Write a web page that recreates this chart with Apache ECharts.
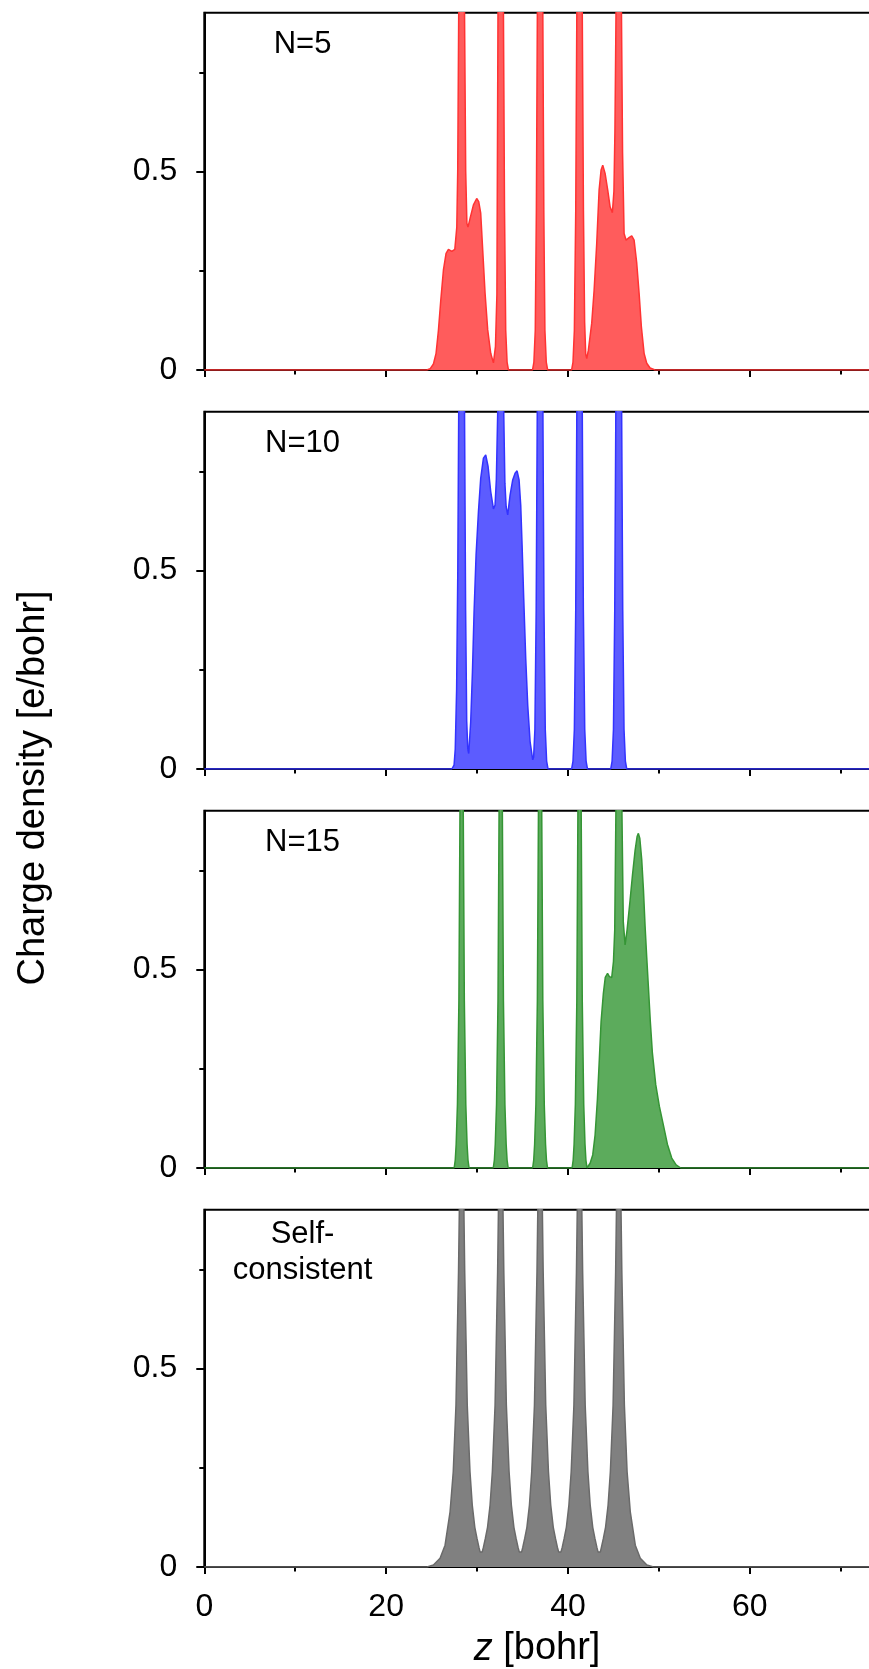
<!DOCTYPE html>
<html>
<head>
<meta charset="utf-8">
<title>Charge density profiles</title>
<script src="https://cdn.jsdelivr.net/npm/echarts@6/dist/echarts.min.js"></script>
<style>
  html, body { margin: 0; padding: 0; background: #fff; overflow: hidden; }
  #chart { width: 940px; height: 1669px; }
</style>
</head>
<body>
<div id="chart"></div>
<script>
// Linear charge density along z, [z (bohr), rho (e/bohr)] for each calculation.
// The atomic peaks rise well above the plotted range and are cut at 0.9.
const rhoN5 = [
  [0, 0], [24.47, 0], [24.83, 0.003], [25.2, 0.015], [25.49, 0.042], [25.75, 0.10],
  [26.01, 0.176], [26.3, 0.252], [26.59, 0.294], [26.85, 0.304], [27.22, 0.299],
  [27.55, 0.304], [27.77, 0.36], [27.87, 0.5], [27.98, 0.9], [28.12, 2.0], [28.3, 4.0],
  [28.48, 2.0], [28.62, 0.9], [28.75, 0.5], [28.88, 0.37], [29.0, 0.36], [29.23, 0.382],
  [29.6, 0.416], [29.96, 0.432], [30.18, 0.424], [30.4, 0.395], [30.62, 0.302],
  [30.88, 0.193], [31.17, 0.101], [31.5, 0.042], [31.8, 0.018], [32.02, 0.059],
  [32.18, 0.19], [32.3, 0.9], [32.45, 2.0], [32.6, 4.0], [32.75, 2.0], [32.9, 0.9],
  [33.02, 0.4], [33.15, 0.1], [33.3, 0.02], [33.45, 0],
  [36.1, 0], [36.25, 0.02], [36.4, 0.1], [36.52, 0.4], [36.63, 0.9], [36.78, 2.0],
  [36.93, 4.0], [37.08, 2.0], [37.23, 0.9], [37.34, 0.4], [37.46, 0.1], [37.61, 0.02], [37.76, 0],
  [40.4, 0], [40.55, 0.02], [40.7, 0.1], [40.85, 0.4], [40.97, 0.9], [41.12, 2.0],
  [41.27, 4.0], [41.42, 2.0], [41.57, 0.9], [41.7, 0.4], [41.83, 0.12], [41.95, 0.04],
  [42.06, 0.029], [42.24, 0.05], [42.61, 0.118], [42.87, 0.2], [43.16, 0.319],
  [43.42, 0.453], [43.64, 0.504], [43.82, 0.516], [44.08, 0.495], [44.37, 0.453],
  [44.63, 0.411], [44.88, 0.396], [45.05, 0.45], [45.16, 0.6], [45.28, 0.9], [45.43, 2.0],
  [45.58, 4.0], [45.73, 2.0], [45.88, 0.9], [46.0, 0.55], [46.17, 0.344], [46.39, 0.327],
  [46.75, 0.334], [47.01, 0.338], [47.27, 0.327], [47.56, 0.269], [47.82, 0.193],
  [48.07, 0.109], [48.37, 0.042], [48.66, 0.017], [49.03, 0.005], [49.58, 0], [80, 0]
];

const rhoN10 = [
  [0, 0], [27.22, 0], [27.47, 0.01], [27.6, 0.05], [27.75, 0.2], [27.88, 0.5],
  [27.98, 0.9], [28.14, 2.0], [28.3, 4.0], [28.46, 2.0], [28.62, 0.9], [28.74, 0.4],
  [28.86, 0.12], [28.98, 0.05], [29.08, 0.039], [29.3, 0.119], [29.49, 0.245],
  [29.67, 0.396], [29.89, 0.539], [30.15, 0.648], [30.4, 0.732], [30.7, 0.783],
  [30.95, 0.791], [31.21, 0.762], [31.5, 0.699], [31.8, 0.655], [31.98, 0.665],
  [32.12, 0.73], [32.27, 0.9], [32.43, 2.0], [32.6, 4.0], [32.77, 2.0], [32.93, 0.9],
  [33.06, 0.72], [33.2, 0.66], [33.37, 0.64], [33.63, 0.69], [33.92, 0.728],
  [34.18, 0.745], [34.4, 0.751], [34.62, 0.728], [34.8, 0.665], [34.95, 0.564],
  [35.13, 0.43], [35.35, 0.279], [35.57, 0.161], [35.83, 0.069], [36.12, 0.023],
  [36.22, 0.03], [36.36, 0.1], [36.5, 0.4], [36.62, 0.9], [36.77, 2.0], [36.93, 4.0],
  [37.09, 2.0], [37.24, 0.9], [37.36, 0.4], [37.5, 0.1], [37.65, 0.02], [37.8, 0],
  [40.4, 0], [40.55, 0.02], [40.7, 0.1], [40.85, 0.4], [40.97, 0.9], [41.12, 2.0],
  [41.27, 4.0], [41.42, 2.0], [41.57, 0.9], [41.69, 0.4], [41.84, 0.1], [41.99, 0.02], [42.14, 0],
  [44.7, 0], [44.85, 0.02], [45.0, 0.1], [45.14, 0.4], [45.26, 0.9], [45.42, 2.0],
  [45.58, 4.0], [45.74, 2.0], [45.9, 0.9], [46.02, 0.4], [46.16, 0.1], [46.31, 0.02],
  [46.46, 0], [80, 0]
];

const rhoN15 = [
  [0, 0], [27.48, 0], [27.6, 0.02], [27.7, 0.06], [27.84, 0.16], [28.0, 0.42], [28.12, 0.9],
  [28.2, 1.5], [28.3, 2.0], [28.4, 1.5], [28.48, 0.9], [28.6, 0.42], [28.76, 0.16],
  [28.9, 0.06], [29.0, 0.02], [29.12, 0],
  [31.78, 0], [31.9, 0.02], [32.0, 0.06], [32.14, 0.16], [32.3, 0.42], [32.42, 0.9],
  [32.5, 1.5], [32.6, 2.0], [32.7, 1.5], [32.78, 0.9], [32.9, 0.42], [33.06, 0.16],
  [33.2, 0.06], [33.3, 0.02], [33.42, 0],
  [36.11, 0], [36.23, 0.02], [36.33, 0.06], [36.47, 0.16], [36.63, 0.42], [36.75, 0.9],
  [36.83, 1.5], [36.93, 2.0], [37.03, 1.5], [37.11, 0.9], [37.23, 0.42], [37.39, 0.16],
  [37.53, 0.06], [37.63, 0.02], [37.75, 0],
  [40.45, 0], [40.57, 0.02], [40.67, 0.06], [40.81, 0.16], [40.97, 0.42], [41.09, 0.9],
  [41.17, 1.5], [41.27, 2.0], [41.37, 1.5], [41.45, 0.9], [41.57, 0.42], [41.73, 0.16],
  [41.87, 0.06], [41.97, 0.02], [42.09, 0],
  [42.43, 0.012], [42.72, 0.033], [42.98, 0.083], [43.24, 0.175], [43.45, 0.276],
  [43.64, 0.369], [43.89, 0.44], [44.1, 0.48], [44.35, 0.49], [44.55, 0.482],
  [44.81, 0.48], [45.0, 0.52], [45.14, 0.6], [45.27, 0.9], [45.43, 1.5], [45.6, 2.0],
  [45.77, 1.5], [45.93, 0.9], [46.08, 0.62], [46.28, 0.562], [46.5, 0.6], [46.83, 0.675],
  [47.1, 0.74], [47.38, 0.8], [47.6, 0.835], [47.74, 0.843], [47.9, 0.83], [48.11, 0.776],
  [48.3, 0.7], [48.48, 0.608], [48.66, 0.53], [48.84, 0.457], [49.05, 0.37], [49.28, 0.29],
  [49.65, 0.21], [50.05, 0.155], [50.49, 0.108], [50.93, 0.06], [51.41, 0.025],
  [51.89, 0.008], [52.4, 0], [80, 0]
];

const rhoSelfConsistent = [
  [0, 0], [24.5, 0], [25.2, 0.005], [25.93, 0.022], [26.48, 0.055], [27.03, 0.139],
  [27.38, 0.24], [27.68, 0.408], [27.82, 0.576], [27.96, 0.744], [28.05, 0.9], [28.18, 1.6],
  [28.3, 3.0], [28.42, 1.6], [28.55, 0.9], [28.64, 0.744], [28.78, 0.576], [28.92, 0.408],
  [29.22, 0.24], [29.47, 0.156], [29.75, 0.1], [29.99, 0.072], [30.2, 0.05], [30.33, 0.038],
  [30.45, 0.034], [30.57, 0.038],
  [30.7, 0.05], [30.91, 0.072], [31.15, 0.1], [31.43, 0.156], [31.68, 0.24], [31.98, 0.408],
  [32.12, 0.576], [32.26, 0.744], [32.35, 0.9], [32.48, 1.6], [32.6, 3.0], [32.72, 1.6],
  [32.85, 0.9], [32.94, 0.744], [33.08, 0.576], [33.22, 0.408], [33.52, 0.24], [33.77, 0.156],
  [34.05, 0.1], [34.29, 0.072], [34.5, 0.05], [34.64, 0.038], [34.77, 0.034], [34.9, 0.038],
  [35.03, 0.05], [35.24, 0.072], [35.48, 0.1], [35.76, 0.156], [36.01, 0.24], [36.31, 0.408],
  [36.45, 0.576], [36.59, 0.744], [36.68, 0.9], [36.81, 1.6], [36.93, 3.0], [37.05, 1.6],
  [37.18, 0.9], [37.27, 0.744], [37.41, 0.576], [37.55, 0.408], [37.85, 0.24], [38.1, 0.156],
  [38.38, 0.1], [38.62, 0.072], [38.83, 0.05], [38.97, 0.038], [39.1, 0.034], [39.23, 0.038],
  [39.37, 0.05], [39.58, 0.072], [39.82, 0.1], [40.1, 0.156], [40.35, 0.24], [40.65, 0.408],
  [40.79, 0.576], [40.93, 0.744], [41.02, 0.9], [41.15, 1.6], [41.27, 3.0], [41.39, 1.6],
  [41.52, 0.9], [41.61, 0.744], [41.75, 0.576], [41.89, 0.408], [42.19, 0.24], [42.44, 0.156],
  [42.72, 0.1], [42.96, 0.072], [43.17, 0.05], [43.3, 0.038], [43.43, 0.034], [43.56, 0.038],
  [43.68, 0.05], [43.89, 0.072], [44.13, 0.1], [44.41, 0.156], [44.66, 0.24], [44.96, 0.408],
  [45.1, 0.576], [45.24, 0.744], [45.33, 0.9], [45.46, 1.6], [45.58, 3.0], [45.7, 1.6],
  [45.83, 0.9], [45.92, 0.744], [46.06, 0.576], [46.2, 0.408], [46.5, 0.24], [46.85, 0.139],
  [47.4, 0.055], [47.95, 0.022], [48.68, 0.005], [49.4, 0], [80, 0]
];

const panelLabels = [['N=5'], ['N=10'], ['N=15'], ['Self-', 'consistent']];
const panelData = [rhoN5, rhoN10, rhoN15, rhoSelfConsistent];
const lineColors = ['#ff3333', '#3333ff', '#359535', '#6a6a6a'];
const fillColors = ['#ff5c5c', '#5c5cff', '#5cab5c', '#808080'];

const zTicks = { min: 0, max: 80, step: 20 };
const rhoMajorTicks = [0, 0.5];
const rhoMinorTicks = [0.25, 0.75];
const rhoMax = 0.9;

// Layout of the four stacked panels (pixels).
const FONT = '"Liberation Sans", Arial, sans-serif';
const gridLeft = 204.3;
const gridWidth = 727.4;      // z = 80 falls past the right edge of the visible page
const gridHeight = 357.3;
const gridTops = [12.7, 411.7, 810.7, 1209.7];
const labelCenterX = 302.5;
const labelOffsetY = 31.5;
const labelLineGap = 35.7;

const grids = [], xAxes = [], yAxes = [], series = [], graphics = [];

gridTops.forEach((top, i) => {
  grids.push({
    left: gridLeft, top: top, width: gridWidth, height: gridHeight,
    outerBoundsMode: 'none', containLabel: false,
    show: true, borderColor: '#000', borderWidth: 2, backgroundColor: 'transparent'
  });

  xAxes.push({
    type: 'value', gridIndex: i, min: zTicks.min, max: zTicks.max, interval: zTicks.step,
    axisLine: { show: true, onZero: false, lineStyle: { color: '#000', width: 2 } },
    axisTick: { show: true, inside: false, length: 7, lineStyle: { color: '#000', width: 2 } },
    minorTick: { show: true, splitNumber: 2, length: 4.5, lineStyle: { color: '#000', width: 2 } },
    splitLine: { show: false }, minorSplitLine: { show: false },
    axisLabel: {
      show: i === gridTops.length - 1, margin: 24, fontSize: 32, fontFamily: FONT,
      color: '#000', showMaxLabel: false
    }
  });

  // minor ticks + axis line
  yAxes.push({
    type: 'value', gridIndex: i, position: 'left', min: 0, max: rhoMax,
    axisLine: { show: true, onZero: false, lineStyle: { color: '#000', width: 2 } },
    axisTick: { show: true, length: 5, customValues: rhoMinorTicks, lineStyle: { color: '#000', width: 2 } },
    axisLabel: { show: false },
    splitLine: { show: false }
  });
  // major ticks + labels
  yAxes.push({
    type: 'value', gridIndex: i, position: 'left', min: 0, max: rhoMax,
    axisLine: { show: false },
    axisTick: { show: true, length: 8, customValues: rhoMajorTicks, lineStyle: { color: '#000', width: 2 } },
    axisLabel: {
      show: true, customValues: rhoMajorTicks, margin: 27, fontSize: 32,
      fontFamily: FONT, color: '#000'
    },
    splitLine: { show: false }
  });

  series.push({
    type: 'line', xAxisIndex: i, yAxisIndex: 2 * i,
    data: panelData[i], symbol: 'none', showSymbol: false, clip: true, z: 3,
    smooth: false,
    lineStyle: { color: lineColors[i], width: 1.5 },
    areaStyle: { color: fillColors[i], opacity: 1 },
    animation: false
  });

  panelLabels[i].forEach((txt, k) => {
    const firstY = panelLabels[i].length > 1 ? top + 25.1 : top + labelOffsetY;
    graphics.push({
      type: 'text', x: labelCenterX, y: firstY + k * labelLineGap, z: 10,
      style: { text: txt, font: '31px ' + FONT, fill: '#000', align: 'center', verticalAlign: 'middle' }
    });
  });
});

graphics.push({
  type: 'text', x: 34, y: 788, rotation: Math.PI / 2, z: 10,
  style: {
    text: 'Charge density [e/bohr]', font: '38px ' + FONT, fill: '#000',
    align: 'center', verticalAlign: 'middle'
  }
});
graphics.push({
  type: 'text', x: 537, y: 1649, z: 10,
  style: {
    text: '{i|z} [bohr]', font: '38px ' + FONT, fill: '#000',
    align: 'center', verticalAlign: 'middle',
    rich: { i: { fontStyle: 'italic', fontSize: 38, fontFamily: FONT, fill: '#000' } }
  }
});

const chart = echarts.init(document.getElementById('chart'), null, { renderer: 'canvas' });
chart.setOption({
  animation: false,
  backgroundColor: '#fff',
  grid: grids,
  xAxis: xAxes,
  yAxis: yAxes,
  series: series,
  graphic: graphics
});
</script>
</body>
</html>
